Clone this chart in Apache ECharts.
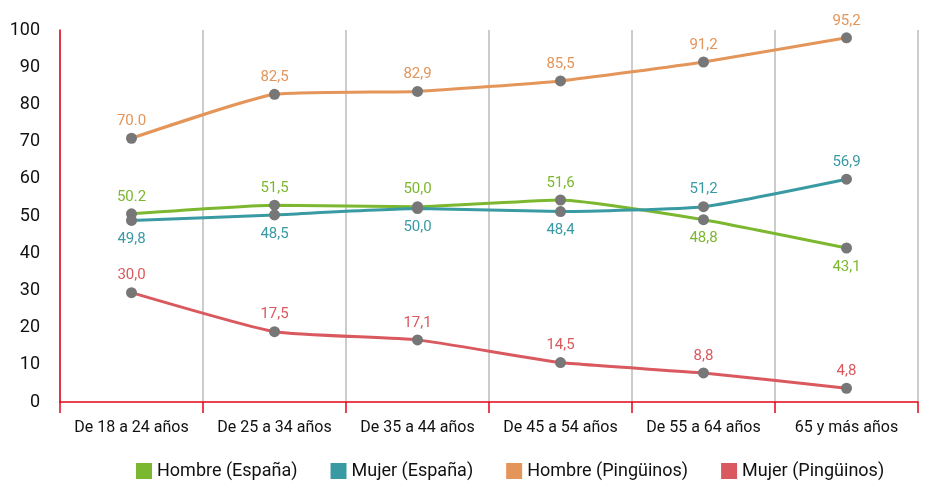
<!DOCTYPE html>
<html>
<head>
<meta charset="utf-8">
<script src="https://cdn.jsdelivr.net/npm/echarts@6/dist/echarts.min.js"></script>
<style>
  html, body { margin: 0; padding: 0; background: #fff; }
  #chart { width: 929px; height: 485px; }
</style>
</head>
<body>
<div id="chart"></div>
<script>
const categories = ['De 18 a 24 años', 'De 25 a 34 años', 'De 35 a 44 años', 'De 45 a 54 años', 'De 55 a 64 años', '65 y más años']
const yTicks = [0, 10, 20, 30, 40, 50, 60, 70, 80, 90, 100]

// where the points sit in the picture
const hombreEspana = [50.6, 52.9, 52.5, 54.3, 49.0, 41.4]
const mujerEspana = [48.8, 50.3, 52.0, 51.2, 52.5, 59.9]
const hombrePinguinos = [70.9, 82.7, 83.5, 86.3, 91.4, 97.9]
const mujerPinguinos = [29.4, 18.9, 16.7, 10.6, 7.8, 3.7]

// texts printed next to the points
const hombreEspanaLabels = ['50.2', '51,5', '50,0', '51,6', '48,8', '43,1']
const mujerEspanaLabels = ['49,8', '48,5', '50,0', '48,4', '51,2', '56,9']
const hombrePinguinosLabels = ['70.0', '82,5', '82,9', '85,5', '91,2', '95,2']
const mujerPinguinosLabels = ['30,0', '17,5', '17,1', '14,5', '8,8', '4,8']

// label above or below each point
const hombreEspanaPos = ['top', 'top', 'top', 'top', 'bottom', 'bottom']
const mujerEspanaPos = ['bottom', 'bottom', 'bottom', 'bottom', 'top', 'top']

const font = "'Liberation Sans Narrow', 'Roboto', sans-serif"

function makeSeries(name, color, values, labels, positions) {
  return {
    name: name,
    type: 'line',
    smooth: 0.15,
    symbol: 'circle',
    symbolSize: 11,
    itemStyle: { color: '#777777' },
    lineStyle: { color: color, width: 3 },
    data: values.map((v, i) => {
      const pos = positions ? positions[i] : 'top'
      return {
        value: v,
        label: {
          show: true,
          position: pos,
          distance: pos === 'top' ? 4 : 6,
          formatter: labels[i],
          color: color,
          fontFamily: font,
          fontSize: 15
        }
      }
    })
  }
}

const chart = echarts.init(document.getElementById('chart'))
chart.setOption({
  animation: false,
  textStyle: { fontFamily: font },
  grid: { left: 60, right: 11, top: 30, bottom: 83 },
  legend: {
    bottom: 0,
    left: 131,
    itemWidth: 16,
    itemHeight: 16,
    itemGap: 33,
    icon: 'rect',
    textStyle: { fontFamily: font, fontSize: 18, color: '#111' },
    data: [
      { name: 'Hombre (España)', itemStyle: { color: '#7cb82f' } },
      { name: 'Mujer (España)', itemStyle: { color: '#3a9aa3' } },
      { name: 'Hombre (Pingüinos)', itemStyle: { color: '#e3955a' } },
      { name: 'Mujer (Pingüinos)', itemStyle: { color: '#d9595f' } }
    ]
  },
  xAxis: {
    type: 'category',
    data: categories,
    boundaryGap: true,
    axisLine: { lineStyle: { color: '#e2061b', width: 1.5 } },
    axisTick: { show: true, interval: 0, length: 11, lineStyle: { color: '#e2061b', width: 1.5 } },
    axisLabel: { interval: 0, margin: 18, fontSize: 16, color: '#111', fontFamily: font },
    splitLine: { show: true, interval: 0, lineStyle: { color: '#bbbbbb', width: 1.5 } }
  },
  yAxis: {
    type: 'value',
    min: yTicks[0],
    max: yTicks[yTicks.length - 1],
    interval: 10,
    axisLine: { show: true, lineStyle: { color: '#e2061b', width: 1.5 } },
    axisTick: { show: false },
    splitLine: { show: false },
    axisLabel: { margin: 20, fontSize: 18, color: '#111', fontFamily: font }
  },
  series: [
    makeSeries('Hombre (España)', '#7cb82f', hombreEspana, hombreEspanaLabels, hombreEspanaPos),
    makeSeries('Mujer (España)', '#3a9aa3', mujerEspana, mujerEspanaLabels, mujerEspanaPos),
    makeSeries('Hombre (Pingüinos)', '#e3955a', hombrePinguinos, hombrePinguinosLabels),
    makeSeries('Mujer (Pingüinos)', '#d9595f', mujerPinguinos, mujerPinguinosLabels)
  ]
})
</script>
</body>
</html>
